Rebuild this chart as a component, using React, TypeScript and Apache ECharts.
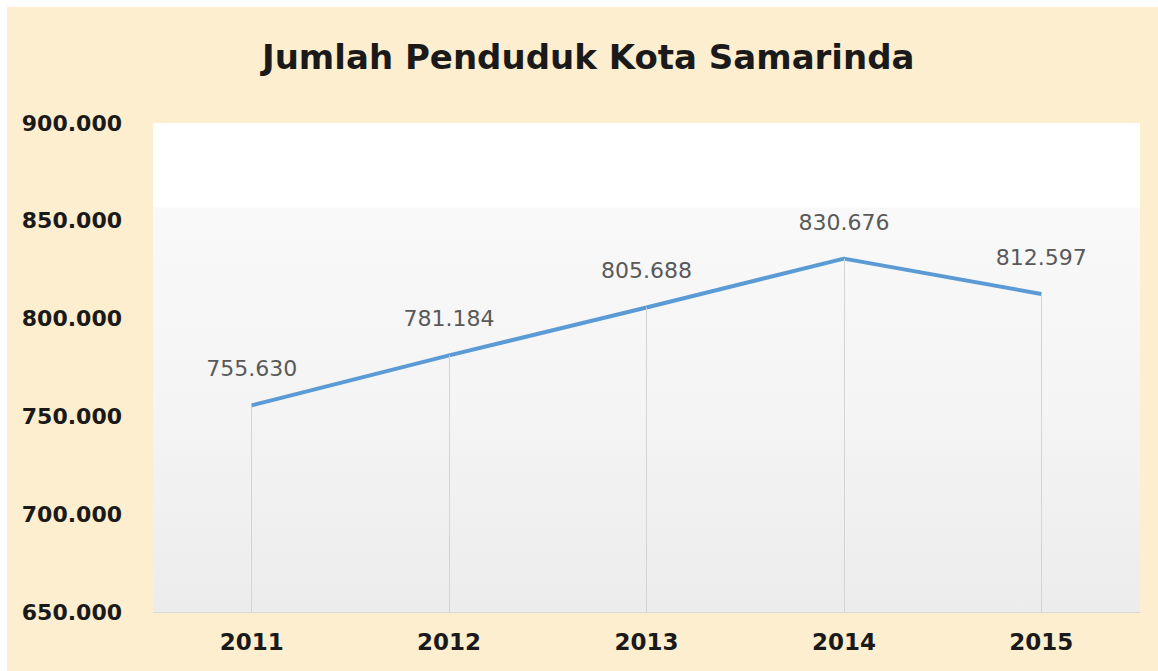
import React, { useEffect, useRef } from "react";
import * as echarts from "echarts";

const years = ["2011", "2012", "2013", "2014", "2015"];
const population = [755630, 781184, 805688, 830676, 812597];
const yMin = 650000;
const yMax = 900000;
const yStep = 50000;
const titleText = "Jumlah Penduduk Kota Samarinda";

const fmt = (v: number) => {
  const s = Math.round(v).toString();
  return s.replace(/\B(?=(\d{3})+(?!\d))/g, ".");
};

export default function App() {
  const ref = useRef<HTMLDivElement>(null);
  useEffect(() => {
    if (!ref.current) return;
    const chart = echarts.init(ref.current, null, { renderer: "svg" });
    const font = "'DejaVu Sans', 'Open Sans', sans-serif";
    chart.setOption({
      animation: false,
      backgroundColor: "#ffffff",
      textStyle: { fontFamily: font },
      graphic: [
        {
          type: "rect",
          left: 7,
          top: 7,
          shape: { width: 1151, height: 664 },
          style: { fill: "#FDEECF" },
          z: -10,
        },
      ],
      title: {
        text: titleText,
        left: 257,
        top: 35,
        textStyle: { fontFamily: font, fontSize: 34, fontWeight: "bold", color: "#1a1a1a" },
      },
      grid: {
        left: 153,
        right: 18,
        top: 123,
        bottom: 59,
        show: true,
        borderWidth: 0,
        backgroundColor: new echarts.graphic.LinearGradient(0, 0, 0, 1, [
          { offset: 0, color: "#ffffff" },
          { offset: 0.17, color: "#ffffff" },
          { offset: 0.175, color: "#f9f9f9" },
          { offset: 0.6, color: "#f4f4f4" },
          { offset: 1, color: "#ececec" },
        ]),
      },
      xAxis: {
        type: "category",
        data: years,
        boundaryGap: true,
        axisLine: { show: true, lineStyle: { color: "#d9d9d9", width: 1 } },
        axisTick: { show: false },
        splitLine: { show: false },
        axisLabel: {
          fontFamily: font,
          fontSize: 23,
          fontWeight: "bold",
          color: "#1a1a1a",
          margin: 18,
        },
      },
      yAxis: {
        type: "value",
        min: yMin,
        max: yMax,
        interval: yStep,
        axisLine: { show: false },
        axisTick: { show: false },
        splitLine: { show: false },
        axisLabel: {
          fontFamily: font,
          fontSize: 22,
          fontWeight: "bold",
          color: "#1a1a1a",
          margin: 31,
          formatter: (v: number) => fmt(v),
        },
      },
      series: [
        {
          type: "line",
          data: population,
          symbol: "circle",
          symbolSize: 1,
          showSymbol: true,
          lineStyle: { color: "#5B9BD5", width: 4 },
          itemStyle: { color: "#5B9BD5" },
          label: {
            show: true,
            position: "top",
            distance: 25,
            fontFamily: font,
            fontSize: 22,
            color: "#595959",
            formatter: (p: any) => fmt(p.value),
          },
          markLine: {
            silent: true,
            symbol: "none",
            label: { show: false },
            lineStyle: { color: "#d4d4d4", width: 1, type: "solid" },
            data: years.map((y, i) => [
              { coord: [y, population[i]] },
              { coord: [y, yMin] },
            ]),
          },
          z: 3,
        },
      ],
    });
    return () => chart.dispose();
  }, []);
  return (
    <div
      ref={ref}
      style={{ position: "fixed", left: 0, top: 0, width: 1158, height: 671 }}
    />
  );
}
